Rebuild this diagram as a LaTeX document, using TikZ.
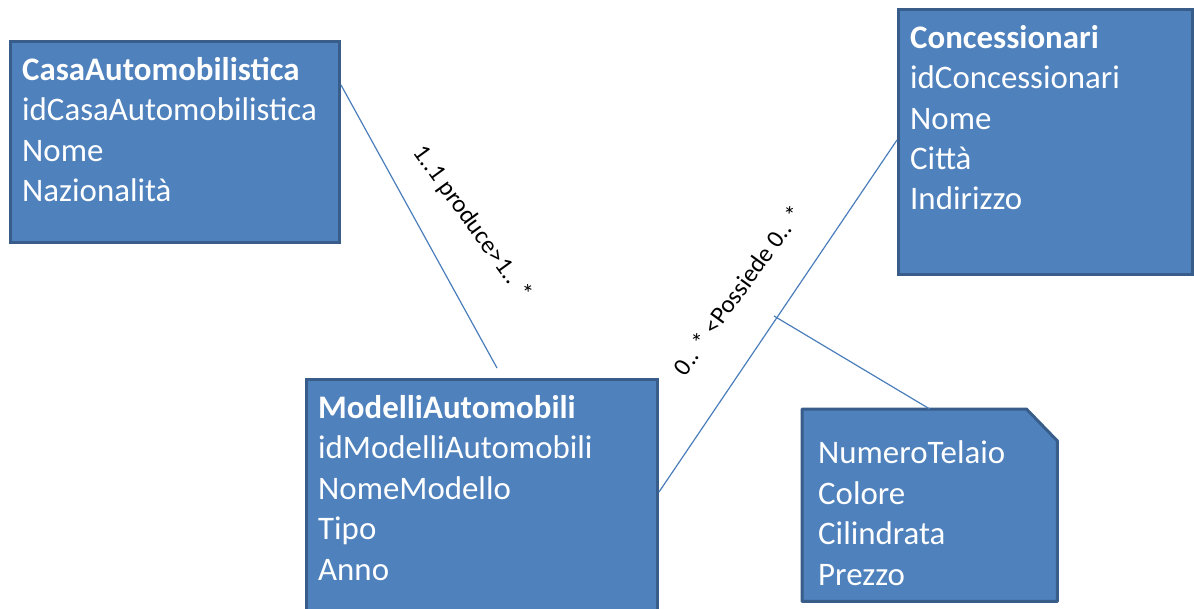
\documentclass[tikz,border=0pt]{standalone}
\usepackage{fontspec}
\setmainfont{Carlito}
\definecolor{entityfill}{HTML}{4F81BD}
\definecolor{entityborder}{HTML}{385D8A}
\definecolor{linkblue}{HTML}{4A7EBB}

\begin{document}
\begin{tikzpicture}
            [x=1bp, y=-1bp,
             entity/.style={shape=rectangle, draw=entityborder, fill=entityfill, line width=3bp, anchor=north west, inner sep=0pt},
             attrs/.style={anchor=base west, align=left, text=white, inner sep=0pt, font=\fontsize{33}{40.5}\selectfont},
             link/.style={draw=linkblue, line width=1.2bp},
             role/.style={font=\fontsize{25}{30}\selectfont, inner sep=0pt}]
            \useasboundingbox (0,0) rectangle (1194,609);

            % entities
            \node[entity, minimum width=329bp, minimum height=201bp] (casa) at (9,40) {};
            \node[entity, minimum width=294bp, minimum height=265bp] (conc) at (897,8) {};
            \node[entity, minimum width=351bp, minimum height=240bp] (modelli) at (305,378) {};
            \node[shape=rectangle, minimum width=255bp, minimum height=192bp, anchor=north west, inner sep=0pt] (nota) at (802,409) {};
            \draw[draw=entityborder, fill=entityfill, line width=3bp, line join=round]
                (nota.north west) -- ([xshift=-31bp]nota.north east) -- ([yshift=-32bp]nota.north east)
                -- (nota.south east) -- (nota.south west) -- cycle;

            % attribute lists (anchored at the baseline of the last line)
            \node[attrs] (casatxt) at (22,201.5) {\textbf{CasaAutomobilistica}\\idCasaAutomobilistica\\Nome\\Nazionalità};
            \node[attrs] (conctxt) at (910,210) {\textbf{Concessionari}\\idConcessionari\\Nome\\Città\\Indirizzo};
            \node[attrs] (modellitxt) at (318,580) {\textbf{ModelliAutomobili}\\idModelliAutomobili\\NomeModello\\Tipo\\Anno};
            \node[attrs] (notatxt) at (818,585) {NumeroTelaio\\Colore\\Cilindrata\\Prezzo};

            % associations
            \coordinate (produceend) at ([xshift=192bp, yshift=10bp]modelli.north west);
            \path[link] ([yshift=-45bp]casa.north east) edge (produceend);
            \path[link] ([yshift=-114bp]modelli.north east) -- coordinate[pos=0.5] (possmid) ([yshift=-132bp]conc.north west);
            \path[link] ([xshift=-4bp]possmid) edge (nota.north);

            \node[role, rotate=-54] (producelbl) at (472,223) {1..1 produce>1.. *};
            \node[role, rotate=54] (possiedelbl) at (738,290) {0.. * <Possiede 0.. *};
        \end{tikzpicture}
\end{document}
